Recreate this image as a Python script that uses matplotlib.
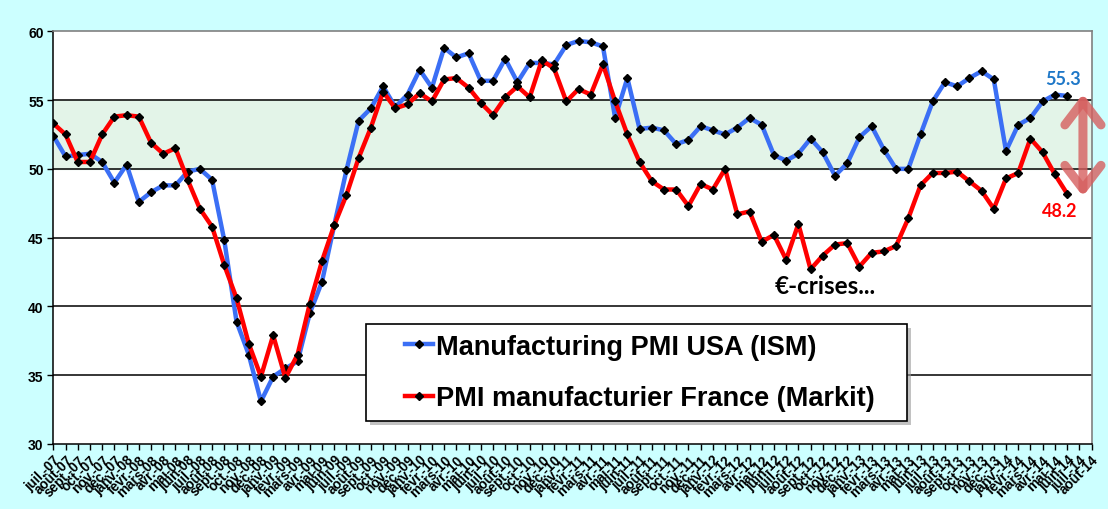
import matplotlib
matplotlib.use("Agg")
import matplotlib.pyplot as plt
from matplotlib.patches import Rectangle
import numpy as np

months = ["janv.", "févr.", "mars", "avr.", "mai", "juin", "juil.", "août",
          "sept.", "oct.", "nov.", "déc."]
labels = []
for yr in range(2007, 2015):
    for m in range(12):
        if yr == 2007 and m < 6:
            continue
        if yr == 2014 and m > 7:
            continue
        labels.append(f"{months[m]}-{str(yr)[2:]}")

usa = [52.4, 50.9, 51.0, 51.1, 50.5, 49.0, 50.3, 47.6, 48.3, 48.8, 48.8, 49.8,
       50.0, 49.2, 44.8, 38.9, 36.5, 33.1, 34.9, 35.5, 36.0, 39.5, 41.8, 45.9,
       49.9, 53.5, 54.4, 56.0, 54.5, 55.4, 57.2, 55.9, 58.8, 58.1, 58.4, 56.4,
       56.4, 58.0, 56.3, 57.7, 57.7, 57.6, 59.0, 59.3, 59.2, 58.9, 53.7, 56.6,
       52.9, 53.0, 52.8, 51.8, 52.1, 53.1, 52.8, 52.5, 53.0, 53.7, 53.2, 51.0,
       50.6, 51.1, 52.2, 51.2, 49.5, 50.4, 52.3, 53.1, 51.4, 50.0, 50.0, 52.5,
       54.9, 56.3, 56.0, 56.6, 57.1, 56.5, 51.3, 53.2, 53.7, 54.9, 55.4, 55.3]

france = [53.3, 52.5, 50.5, 50.5, 52.5, 53.8, 53.9, 53.8, 51.9, 51.1, 51.5, 49.2,
          47.1, 45.8, 43.0, 40.6, 37.3, 34.9, 37.9, 34.8, 36.5, 40.2, 43.3, 45.9,
          48.1, 50.8, 53.0, 55.6, 54.4, 54.7, 55.5, 54.9, 56.5, 56.6, 55.9, 54.8,
          53.9, 55.2, 56.0, 55.2, 57.9, 57.3, 54.9, 55.8, 55.4, 57.6, 54.9, 52.5,
          50.5, 49.1, 48.5, 48.5, 47.3, 48.9, 48.5, 50.0, 46.7, 46.9, 44.7, 45.2,
          43.4, 46.0, 42.7, 43.7, 44.5, 44.6, 42.9, 43.9, 44.0, 44.4, 46.4, 48.8,
          49.7, 49.7, 49.8, 49.1, 48.4, 47.1, 49.3, 49.7, 52.2, 51.2, 49.6, 48.2]

series_names = ["Manufacturing PMI USA (ISM)", "PMI manufacturier France (Markit)"]
yticks = [30, 35, 40, 45, 50, 55, 60]

W, H = 1108, 510
fig = plt.figure(figsize=(W / 100, H / 100), dpi=100)
fig.patch.set_facecolor("#CCFFFF")
ax = fig.add_axes([53.3 / W, 1 - 445 / H, (1091.5 - 53.3) / W, (445 - 32.3) / H])
ax.set_facecolor("white")

n = len(labels)
x_usa = np.arange(len(usa))
x_fr = np.arange(len(france))

ax.axhspan(50, 55, color="#E3F4E8", zorder=0)
for yv in [35, 40, 45, 50, 55]:
    ax.axhline(yv, color="black", lw=1.1, zorder=1)

ax.plot(x_usa, usa, color="#3B6FF5", lw=3.2, marker="D", ms=3.6,
        mfc="black", mec="black", zorder=3, label=series_names[0],
        solid_joinstyle="round")
ax.plot(x_fr, france, color="#FF0000", lw=3.2, marker="D", ms=3.6,
        mfc="black", mec="black", zorder=4, label=series_names[1],
        solid_joinstyle="round")

ax.set_xlim(0, n - 1)
ax.set_ylim(30, 60)
ax.set_yticks(yticks)
ax.set_yticklabels([str(v) for v in yticks], fontsize=10, fontweight="bold",
                   family="Liberation Sans")
ax.set_xticks(np.arange(n))
ax.set_xticklabels(labels, rotation=45, ha="right", rotation_mode="anchor",
                   fontsize=9.8, fontweight="bold", family="Liberation Sans")
ax.tick_params(axis="x", direction="out", length=4, width=1, pad=2)
ax.tick_params(axis="y", direction="out", length=4, width=1, pad=3)

for s in ["left", "bottom"]:
    ax.spines[s].set_color("black")
    ax.spines[s].set_linewidth(1.1)
for s in ["top", "right"]:
    ax.spines[s].set_color("#808080")
    ax.spines[s].set_linewidth(1.2)

ax.text(82.7, 56.6, "55.3", color="#1F78C8", fontsize=13, fontweight="bold",
        family="Lato", ha="center", va="center")
ax.text(82.4, 47.0, "48.2", color="#FF0000", fontsize=13, fontweight="bold",
        family="Lato", ha="center", va="center")
ax.text(63.2, 41.5, "€-crises...", color="black", fontsize=17.5, fontweight="bold",
        family="Lato", ha="center", va="center")

ax.annotate("", xy=(84.3, 48.0), xytext=(84.3, 55.45),
            arrowprops=dict(arrowstyle="<->, head_length=0.85, head_width=0.65",
                            lw=6.5, color="#D65F5F", alpha=0.8,
                            mutation_scale=20, shrinkA=0, shrinkB=0),
            annotation_clip=False, zorder=5)

# legend box (frame drawn separately with shadow)
lx0, lx1, ly0, ly1 = 366, 907, 325, 422
fig.add_artist(Rectangle((lx0 / W + 4 / W, 1 - ly1 / H - 4 / H),
                         (lx1 - lx0) / W, (ly1 - ly0) / H,
                         transform=fig.transFigure, facecolor="#9A9A9A",
                         edgecolor="none", alpha=0.6, zorder=8))
fig.add_artist(Rectangle((lx0 / W, 1 - ly1 / H), (lx1 - lx0) / W, (ly1 - ly0) / H,
                         transform=fig.transFigure, facecolor="white",
                         edgecolor="black", lw=1.2, zorder=9))

leg = fig.legend(loc="center left",
                 bbox_to_anchor=(405 / W, 1 - (ly0 + ly1) / 2 / H),
                 bbox_transform=fig.transFigure,
                 prop=dict(family="Liberation Sans", weight="bold", size=19.5),
                 frameon=False, borderpad=0, handlelength=1.05,
                 handletextpad=0.1, labelspacing=0.95, borderaxespad=0)
leg.set_zorder(10)

fig.savefig("out.png", dpi=100, facecolor=fig.get_facecolor())
